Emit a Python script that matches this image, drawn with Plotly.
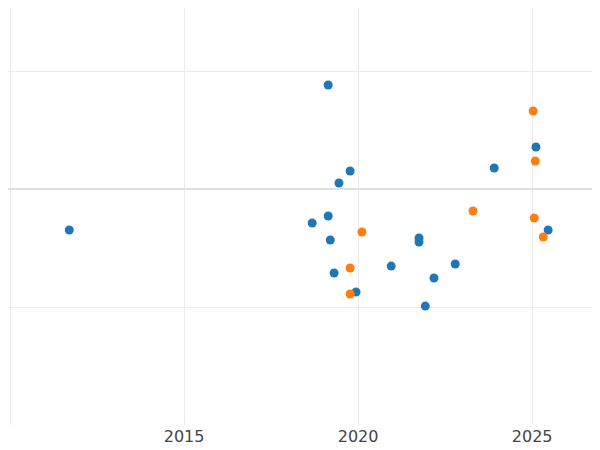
import plotly.graph_objects as go

blue_x = [2011.70, 2019.14, 2019.77, 2019.45, 2018.68, 2019.14, 2019.20, 2019.31, 2019.94,
          2020.95, 2021.75, 2021.75, 2022.18, 2021.93, 2022.79, 2023.91, 2025.11, 2025.46]
blue_y = [-0.347, 0.881, 0.153, 0.051, -0.288, -0.229, -0.432, -0.712, -0.873,
          -0.653, -0.415, -0.449, -0.754, -0.992, -0.636, 0.178, 0.356, -0.347]
orange_x = [2025.03, 2025.09, 2023.30, 2025.06, 2025.32, 2020.11, 2019.77, 2019.77]
orange_y = [0.661, 0.237, -0.186, -0.246, -0.407, -0.364, -0.669, -0.890]
x_ticks = [2010, 2015, 2020, 2025]

fig = go.Figure()
fig.add_trace(go.Scatter(x=blue_x, y=blue_y, mode="markers",
                         marker=dict(color="#1f77b4", size=9)))
fig.add_trace(go.Scatter(x=orange_x, y=orange_y, mode="markers",
                         marker=dict(color="#ff7f0e", size=9)))
fig.update_layout(
    width=592, height=442, showlegend=False,
    margin=dict(l=0, r=0, t=0, b=25),
    plot_bgcolor="white", paper_bgcolor="white",
    font=dict(family="DejaVu Sans", size=16, color="#444"),
)
fig.update_xaxes(range=[2009.94, 2026.95], tickvals=x_ticks,
                 ticktext=["", "2015", "2020", "2025"],
                 showgrid=True, gridcolor="#ebebeb", zeroline=False)
fig.update_yaxes(range=[-2.0, 1.534], tickvals=[-1, 0, 1], showticklabels=False,
                 showgrid=True, gridcolor="#ebebeb", zeroline=True,
                 zerolinecolor="#e0e0e0", zerolinewidth=2)
fig.write_html("out.html")
